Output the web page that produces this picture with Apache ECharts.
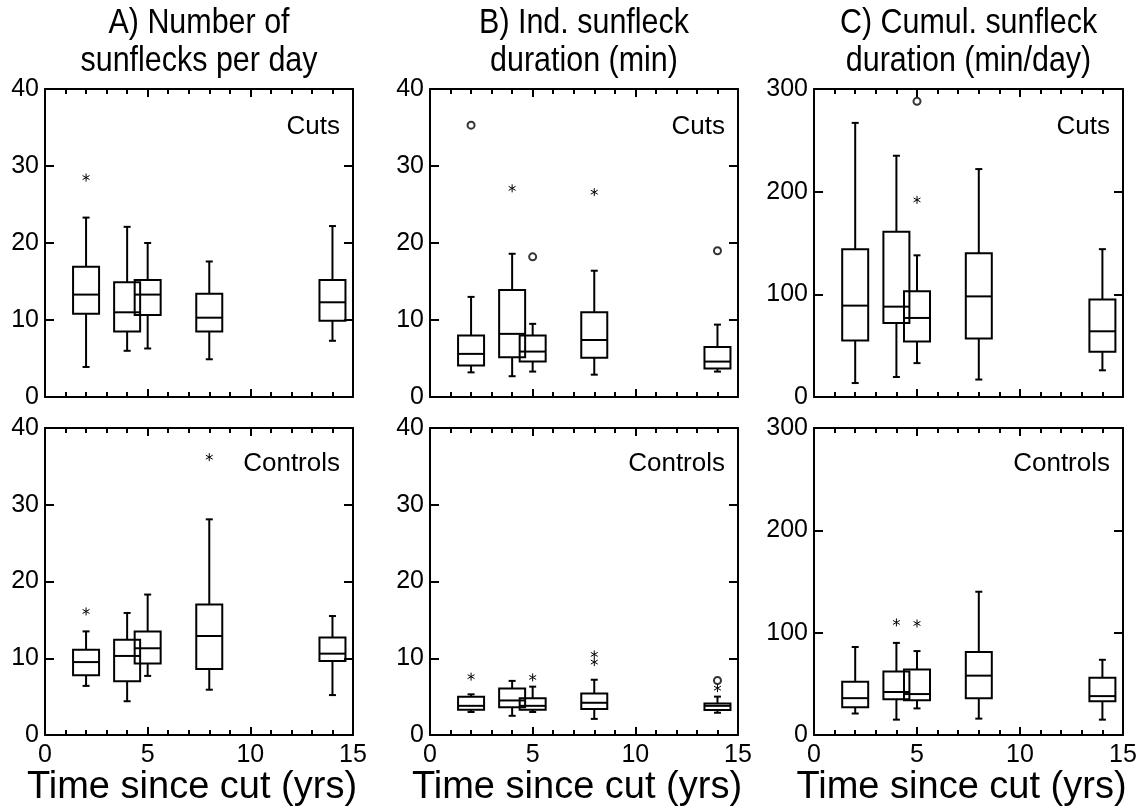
<!DOCTYPE html>
<html>
<head>
<meta charset="utf-8">
<script src="https://cdn.jsdelivr.net/npm/echarts@6/dist/echarts.min.js"></script>
<style>
  html, body { margin: 0; padding: 0; background: #fff; }
  #chart { width: 1142px; height: 811px; }
</style>
</head>
<body>
<div id="chart"></div>
<script>
// box positions (years since cut)
const years = [2, 4, 5, 8, 14]

// each box: [min, Q1, median, Q3, max]
const countCuts = [[3.9, 10.8, 13.3, 16.9, 23.3], [6.0, 8.5, 11.0, 14.9, 22.1], [6.3, 10.65, 13.3, 15.2, 20.0], [4.9, 8.5, 10.3, 13.4, 17.6], [7.3, 9.9, 12.3, 15.2, 22.2]]
const countControls = [[6.4, 7.8, 9.5, 11.1, 13.5], [4.4, 7.0, 10.3, 12.4, 15.9], [7.7, 9.3, 11.3, 13.5, 18.3], [5.9, 8.6, 12.9, 17.0, 28.1], [5.2, 9.65, 10.6, 12.7, 15.5]]
const durCuts = [[3.2, 4.1, 5.6, 8.0, 13.0], [2.7, 5.15, 8.2, 13.9, 18.6], [3.3, 4.6, 5.9, 8.0, 9.5], [2.9, 5.1, 7.4, 11.0, 16.4], [3.3, 3.7, 4.6, 6.5, 9.4]]
const durControls = [[3.0, 3.3, 3.8, 5.0, 5.3], [2.5, 3.6, 4.5, 6.05, 7.05], [3.0, 3.3, 3.8, 4.8, 6.3], [2.1, 3.4, 4.2, 5.4, 7.2], [2.9, 3.25, 3.8, 4.1, 5.0]]
const cumCuts = [[13.6, 55, 89, 144, 267], [19.5, 72, 88, 161, 235], [33, 54, 77, 103, 138], [17, 57, 98, 140, 222], [26, 44, 64, 95, 144]]
const cumControls = [[21, 27, 36, 52, 86], [15, 35, 42, 62, 90], [26, 34, 40, 64, 82], [16, 36, 58, 81, 140], [15, 33, 38, 56, 73.5]]

// outliers: [year, value]
const countCutsStars = [[2, 28.5]]
const countControlsStars = [[2, 16.1], [8, 36.2]]
const durCutsStars = [[4, 27.1], [8, 26.6]]
const durCutsCircles = [[2, 35.3], [5, 18.2], [14, 19.0]]
const durControlsStars = [[2, 7.6], [5, 7.5], [8, 9.5], [8, 10.5], [14, 6.1]]
const durControlsCircles = [[14, 7.1]]
const cumCutsStars = [[5, 192]]
const cumCutsCircles = [[5, 288]]
const cumControlsStars = [[4, 110], [5, 109]]

const yMaxList = [40, 40, 300]
const yIntervalList = [10, 10, 100]
const titleLines = [
  ['A) Number of', 'sunflecks per day'],
  ['B) Ind. sunfleck', 'duration (min)'],
  ['C) Cumul. sunfleck', 'duration (min/day)'],
]
const groupLabels = ['Cuts', 'Controls']

const panels = [
  { col: 0, row: 0, boxes: countCuts, stars: countCutsStars, circles: [] },
  { col: 1, row: 0, boxes: durCuts, stars: durCutsStars, circles: durCutsCircles },
  { col: 2, row: 0, boxes: cumCuts, stars: cumCutsStars, circles: cumCutsCircles },
  { col: 0, row: 1, boxes: countControls, stars: countControlsStars, circles: [] },
  { col: 1, row: 1, boxes: durControls, stars: durControlsStars, circles: durControlsCircles },
  { col: 2, row: 1, boxes: cumControls, stars: cumControlsStars, circles: [] },
]

const COLS = [{ left: 45, width: 308 }, { left: 430, width: 308 }, { left: 814, width: 309 }]
const ROWS = [{ top: 89, height: 308 }, { top: 428, height: 307 }]
const FONT = 'Liberation Sans, Arial, sans-serif'
const INK = '#000'

function renderBox(params, api) {
  const x = api.value(0)
  const p = [1, 2, 3, 4, 5].map((i) => api.coord([x, api.value(i)]))
  const cx = p[0][0]
  const half = 13
  const cap = 3.5
  const line = { stroke: INK, lineWidth: 2 }
  return {
    type: 'group',
    children: [
      { type: 'line', shape: { x1: cx, y1: p[0][1], x2: cx, y2: p[1][1] }, style: line },
      { type: 'line', shape: { x1: cx - cap, y1: p[0][1], x2: cx + cap, y2: p[0][1] }, style: line },
      { type: 'line', shape: { x1: cx, y1: p[3][1], x2: cx, y2: p[4][1] }, style: line },
      { type: 'line', shape: { x1: cx - cap, y1: p[4][1], x2: cx + cap, y2: p[4][1] }, style: line },
      {
        type: 'rect',
        shape: { x: cx - half, y: p[3][1], width: half * 2, height: p[1][1] - p[3][1] },
        style: { fill: 'none', stroke: INK, lineWidth: 2 },
      },
      { type: 'line', shape: { x1: cx - half, y1: p[2][1], x2: cx + half, y2: p[2][1] }, style: line },
    ],
  }
}

function renderStar(params, api) {
  const [cx, cy] = api.coord([api.value(0), api.value(1)])
  const r = 4
  const dx = r * Math.cos(Math.PI / 6)
  const dy = r * Math.sin(Math.PI / 6)
  const line = { stroke: INK, lineWidth: 1 }
  return {
    type: 'group',
    children: [
      { type: 'line', shape: { x1: cx, y1: cy - r, x2: cx, y2: cy + r }, style: line },
      { type: 'line', shape: { x1: cx - dx, y1: cy - dy, x2: cx + dx, y2: cy + dy }, style: line },
      { type: 'line', shape: { x1: cx - dx, y1: cy + dy, x2: cx + dx, y2: cy - dy }, style: line },
    ],
  }
}

const grid = []
const xAxis = []
const yAxis = []
const series = []
const graphic = []

panels.forEach((panel, i) => {
  const col = COLS[panel.col]
  const row = ROWS[panel.row]
  grid.push({ left: col.left, top: row.top, width: col.width, height: row.height })

  const showXLabels = panel.row === 1
  ;['bottom', 'top'].forEach((position) => {
    xAxis.push({
      type: 'value',
      gridIndex: i,
      position,
      min: 0,
      max: 15,
      interval: 5,
      axisLine: { show: true, onZero: false, lineStyle: { color: INK, width: 2 } },
      axisTick: { show: true, inside: true, length: 8, lineStyle: { color: INK, width: 2 } },
      minorTick: { show: true, splitNumber: 5, length: 5, lineStyle: { color: INK, width: 2 } },
      splitLine: { show: false },
      axisLabel: {
        show: showXLabels && position === 'bottom',
        color: INK,
        fontSize: 25,
        fontFamily: FONT,
        margin: 8,
      },
    })
  })

  const yMax = yMaxList[panel.col]
  const yInterval = yIntervalList[panel.col]
  ;['left', 'right'].forEach((position) => {
    yAxis.push({
      type: 'value',
      gridIndex: i,
      position,
      min: 0,
      max: yMax,
      interval: yInterval,
      axisLine: { show: true, onZero: false, lineStyle: { color: INK, width: 2 } },
      axisTick: { show: true, inside: true, length: 9, lineStyle: { color: INK, width: 2 } },
      splitLine: { show: false },
      axisLabel: {
        show: position === 'left',
        color: INK,
        fontSize: 25,
        fontFamily: FONT,
        margin: 6,
      },
    })
  })

  const xIdx = i * 2
  const yIdx = i * 2
  series.push({
    type: 'custom',
    xAxisIndex: xIdx,
    yAxisIndex: yIdx,
    renderItem: renderBox,
    encode: { x: 0, y: [1, 2, 3, 4, 5] },
    data: panel.boxes.map((b, k) => [years[k], ...b]),
    silent: true,
    z: 3,
  })
  series.push({
    type: 'custom',
    xAxisIndex: xIdx,
    yAxisIndex: yIdx,
    renderItem: renderStar,
    encode: { x: 0, y: 1 },
    data: panel.stars,
    silent: true,
    z: 4,
  })
  series.push({
    type: 'scatter',
    xAxisIndex: xIdx,
    yAxisIndex: yIdx,
    symbol: 'emptyCircle',
    symbolSize: 7,
    itemStyle: { color: INK, borderColor: INK, borderWidth: 1 },
    data: panel.circles,
    silent: true,
    z: 4,
  })

  graphic.push({
    type: 'text',
    x: col.left + col.width - 13,
    y: row.top + (panel.row === 0 ? 38 : 36),
    style: { text: groupLabels[panel.row], font: `26px ${FONT}`, fill: INK, align: 'right', verticalAlign: 'middle' },
  })

  if (panel.row === 0) {
    const cx = col.left + col.width / 2
    titleLines[panel.col].forEach((t, k) => {
      graphic.push({
        type: 'text',
        x: cx,
        y: 23 + k * 38,
        scaleX: 0.87,
        style: { text: t, font: `35px ${FONT}`, fill: INK, align: 'center', verticalAlign: 'middle' },
      })
    })
  } else {
    graphic.push({
      type: 'text',
      x: col.left + col.width / 2 - 7,
      y: 788,
      style: { text: 'Time since cut (yrs)', font: `38px ${FONT}`, fill: INK, align: 'center', verticalAlign: 'middle' },
    })
  }
})

const chart = echarts.init(document.getElementById('chart'), null, { renderer: 'canvas' })
chart.setOption({
  animation: false,
  backgroundColor: '#fff',
  grid,
  xAxis,
  yAxis,
  series,
  graphic,
})
</script>
</body>
</html>
